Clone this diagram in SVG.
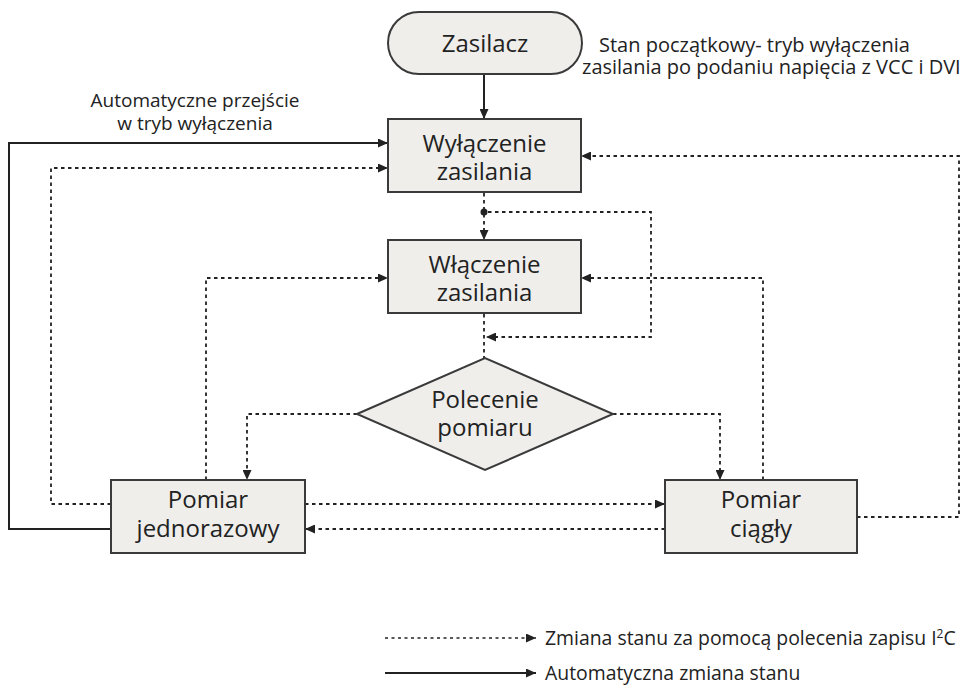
<svg xmlns="http://www.w3.org/2000/svg" width="965" height="687" viewBox="0 0 965 687">
  <style>
    .node { fill: #efeeeb; stroke: #3a3a3a; stroke-width: 2; }
    .label { font-family: "Open Sans", "Noto Sans", sans-serif; font-size: 24px; fill: #222; text-anchor: middle; }
    .note { font-family: "Open Sans", "Noto Sans", sans-serif; font-size: 19px; fill: #222; }
    .note-wide { font-size: 20px; }
    .key { font-size: 19.4px; }
    .solid { fill: none; stroke: #222; stroke-width: 2; }
    .dash { fill: none; stroke: #222; stroke-width: 1.8; stroke-dasharray: 3.5 3.5; }
    .dash-key { fill: none; stroke: #222; stroke-width: 1.4; stroke-dasharray: 3 3.5; }
  </style>
  <defs>
    <marker id="arrow" markerUnits="userSpaceOnUse" markerWidth="10" markerHeight="9" refX="10" refY="4.5" orient="auto">
      <path d="M0,0 L10,4.5 L0,9 z" fill="#222"/>
    </marker>
  </defs>

  <rect width="965" height="687" fill="#ffffff"/>

  <!-- connectors -->
  <g id="connectors">
    <line class="solid" x1="484" y1="75" x2="484" y2="119" marker-end="url(#arrow)"/>
    <polyline class="solid" points="111,529 9,529 9,143 388,143" marker-end="url(#arrow)"/>
    <polyline class="dash" points="111,504 51,504 51,168 388,168" marker-end="url(#arrow)"/>
    <polyline class="dash" points="857,517 959,517 959,156 581,156" marker-end="url(#arrow)"/>
    <line class="dash" x1="484" y1="193" x2="484" y2="240" marker-end="url(#arrow)"/>
    <circle cx="484" cy="212" r="3.5" fill="#222"/>
    <polyline class="dash" points="488,212 651,212 651,337 486,337" marker-end="url(#arrow)"/>
    <line class="dash" x1="484" y1="314" x2="484" y2="358"/>
    <polyline class="dash" points="206,480 206,278 388,278" marker-end="url(#arrow)"/>
    <polyline class="dash" points="763,480 763,278 581,278" marker-end="url(#arrow)"/>
    <polyline class="dash" points="357,414 247,414 247,480" marker-end="url(#arrow)"/>
    <polyline class="dash" points="613,414 720,414 720,480" marker-end="url(#arrow)"/>
    <line class="dash" x1="305" y1="504" x2="665" y2="504" marker-end="url(#arrow)"/>
    <line class="dash" x1="665" y1="529" x2="305" y2="529" marker-end="url(#arrow)"/>
  </g>

  <!-- states -->
  <g id="n-zasilacz">
    <rect class="node" x="388" y="12" width="194" height="62" rx="31" ry="31"/>
    <text class="label" x="485" y="52">Zasilacz</text>
  </g>
  <g id="n-wylaczenie">
    <rect class="node" x="388" y="119" width="193" height="73"/>
    <text class="label" x="484.5" y="152">Wyłączenie</text>
    <text class="label" x="484.5" y="180">zasilania</text>
  </g>
  <g id="n-wlaczenie">
    <rect class="node" x="388" y="240" width="193" height="73"/>
    <text class="label" x="484.5" y="273">Włączenie</text>
    <text class="label" x="484.5" y="301">zasilania</text>
  </g>
  <g id="n-polecenie">
    <polygon class="node" points="357,414 485,358 613,414 485,470"/>
    <text class="label" x="485" y="408">Polecenie</text>
    <text class="label" x="485" y="436">pomiaru</text>
  </g>
  <g id="n-jednorazowy">
    <rect class="node" x="111" y="480" width="194" height="73"/>
    <text class="label" x="208" y="508">Pomiar</text>
    <text class="label" x="208" y="537">jednorazowy</text>
  </g>
  <g id="n-ciagly">
    <rect class="node" x="665" y="480" width="192" height="73"/>
    <text class="label" x="761" y="508">Pomiar</text>
    <text class="label" x="761" y="537">ciągły</text>
  </g>

  <!-- annotations -->
  <g id="notes">
    <text class="note note-wide" x="599" y="52">Stan początkowy- tryb wyłączenia</text>
    <text class="note note-wide" x="582" y="74">zasilania po podaniu napięcia z VCC i DVI</text>
    <text class="note" x="195" y="107" text-anchor="middle">Automatyczne przejście</text>
    <text class="note" x="195" y="130" text-anchor="middle">w tryb wyłączenia</text>
  </g>

  <!-- legend -->
  <g id="legend">
    <line class="dash-key" x1="385" y1="638" x2="536" y2="638" marker-end="url(#arrow)"/>
    <line class="solid" x1="385" y1="673" x2="536" y2="673" stroke-width="1.6" marker-end="url(#arrow)"/>
    <text class="note key" x="545" y="645">Zmiana stanu za pomocą polecenia zapisu I<tspan font-size="12" dy="-7">2</tspan><tspan dy="7">C</tspan></text>
    <text class="note key" x="545" y="680">Automatyczna zmiana stanu</text>
  </g>
</svg>
